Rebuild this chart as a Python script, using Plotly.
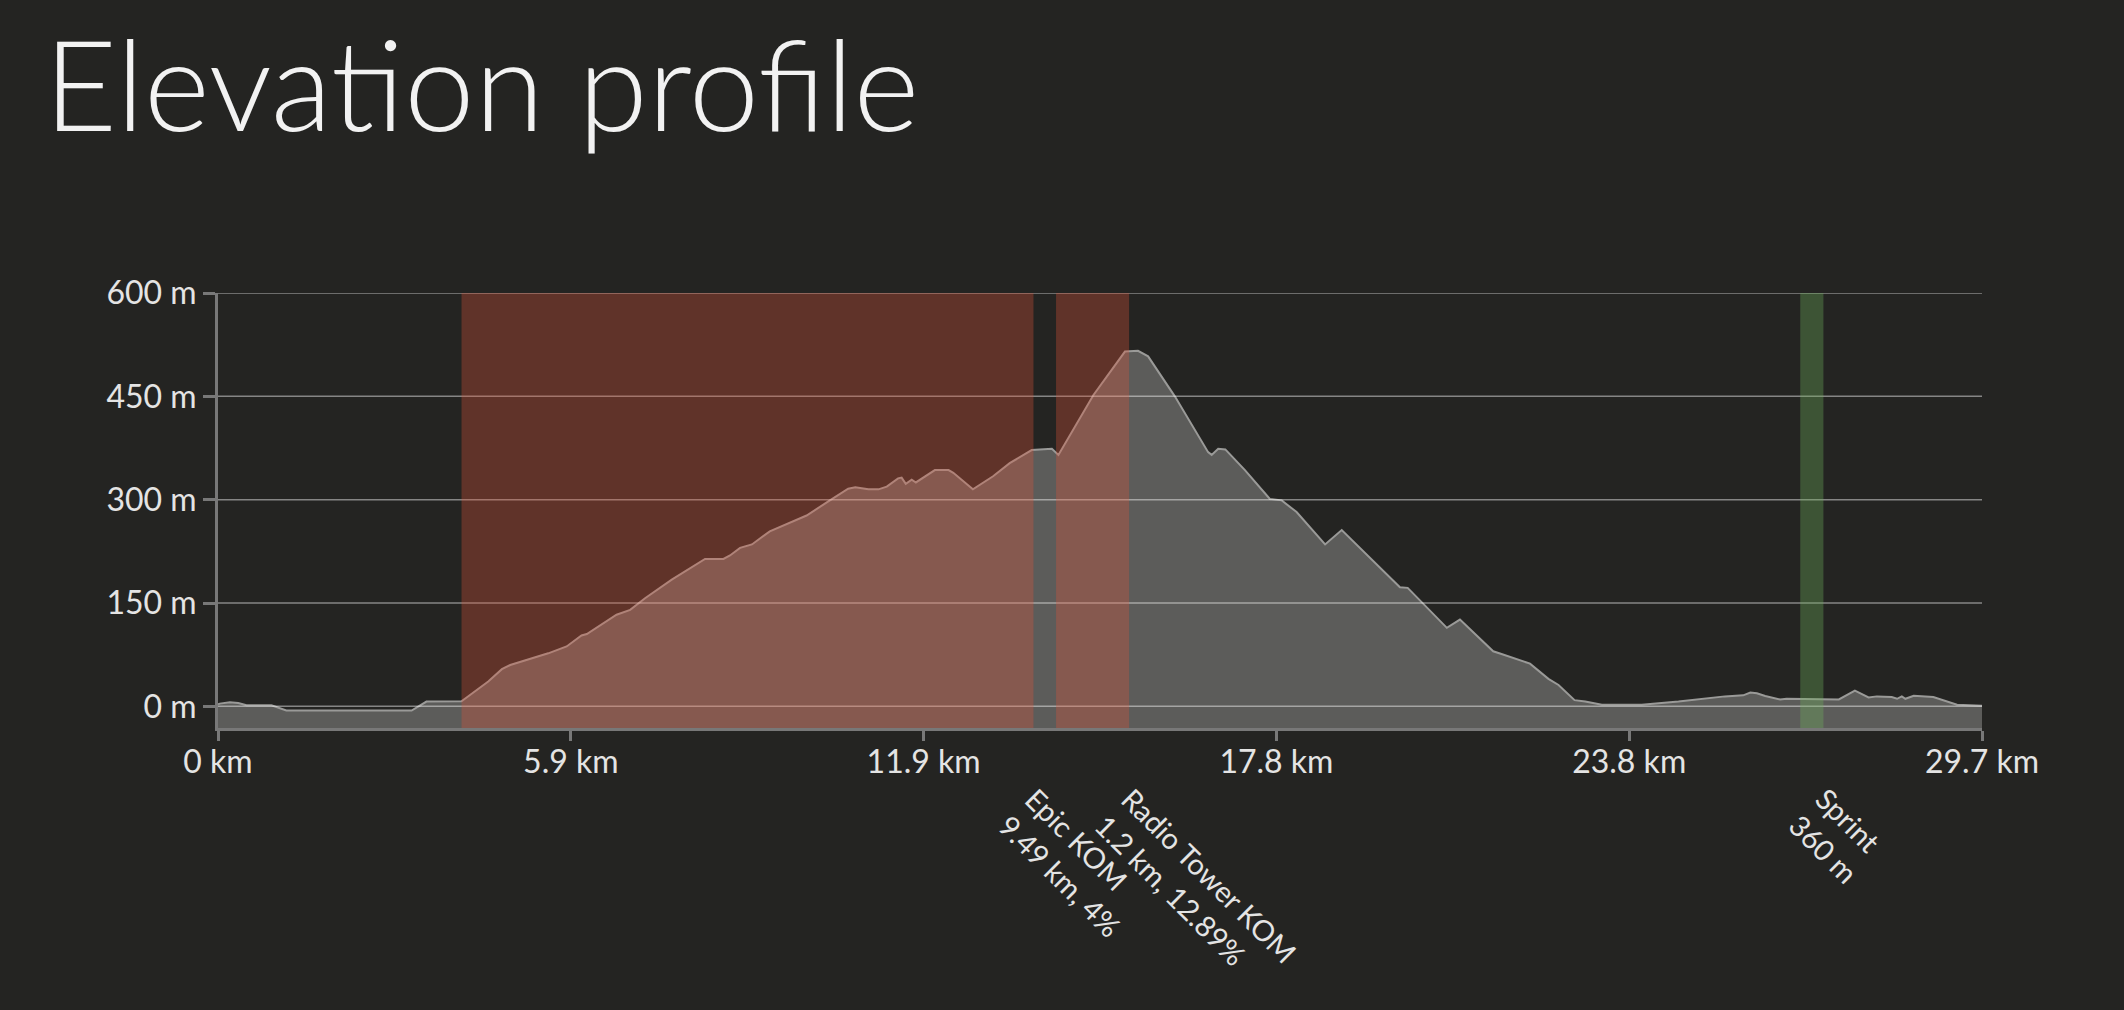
import plotly.graph_objects as go

# elevation profile (km, m)
distance_km = [
    0.00, 0.03, 0.20, 0.34, 0.48, 0.90, 1.15, 3.26, 3.51, 4.07, 4.10, 4.55, 4.78,
    4.92, 5.56, 5.87, 6.12, 6.21, 6.71, 6.94, 7.19, 7.64, 8.20, 8.51, 8.62, 8.79,
    8.99, 9.29, 9.55, 9.91, 10.25, 10.61, 10.73, 10.95, 11.12, 11.26, 11.45, 11.51,
    11.58, 11.68, 11.75, 12.07, 12.30, 12.38, 12.71, 13.05, 13.33, 13.56, 13.70,
    14.04, 14.15, 14.74, 15.27, 15.49, 15.66, 16.11, 16.67, 16.73, 16.84, 16.96,
    17.29, 17.71, 17.91, 18.16, 18.64, 18.92, 19.90, 20.03, 20.27, 20.69, 20.91,
    21.47, 21.61, 22.09, 22.40, 22.57, 22.84, 23.02, 23.30, 23.97, 24.59, 25.37,
    25.68, 25.80, 25.91, 26.05, 26.30, 26.41, 27.29, 27.56, 27.79, 27.93, 28.18,
    28.27, 28.35, 28.41, 28.55, 28.88, 29.28, 29.70,
]
elevation_m = [
    3, 4, 6, 5, 1.5, 1.5, -6, -6, 7, 7, 7.5, 36, 54,
    60, 77, 87, 103, 105, 133, 140, 157, 184, 214, 214, 219, 230,
    235, 254, 264, 277, 296, 316, 318, 315, 315, 319, 331, 332,
    323, 329, 325, 343, 343, 339, 315, 334, 353, 365, 372,
    374, 365, 452, 515, 516, 508, 450, 369, 365, 374, 373,
    343, 301, 299, 282, 235, 256, 173, 172, 151, 114, 126,
    80, 76, 62, 40, 31, 9, 7, 2.5, 2.5, 7, 14.5,
    16, 20, 19, 15, 10, 11, 10, 23, 13, 14.5, 13.5,
    11, 14.5, 11, 15.5, 13.5, 2.5, 1,
]

# climbs and sprints (start km, end km)
segment_names = ["Epic KOM<br>9.49 km, 4%", "Radio Tower KOM<br>1.2 km, 12.89%", "Sprint<br>360 m"]
segment_start = [4.10, 14.11, 26.64]
segment_end = [13.73, 15.34, 27.03]
segment_kind = ["kom", "kom", "sprint"]

x_tickvals = [0, 5.94, 11.88, 17.82, 23.76, 29.7]
x_ticktext = ["0 km", "5.9 km", "11.9 km", "17.8 km", "23.8 km", "29.7 km"]
y_tickvals = [0, 150, 300, 450, 600]
y_ticktext = ["0 m", "150 m", "300 m", "450 m", "600 m"]

Y_MIN = -31.4
Y_MAX = 600
BG = "#242422"
AXIS = "#787878"
TEXT = "#e4e4e4"
FONT = "Lato"
kind_colors = {"kom": "rgba(223, 83, 56, 0.32)", "sprint": "rgba(110, 180, 90, 0.34)"}

fig = go.Figure()

# baseline at the bottom of the plot so the area fills down to the axis
fig.add_trace(go.Scatter(x=distance_km, y=[Y_MIN] * len(distance_km), mode="lines",
                         line=dict(width=0), hoverinfo="skip", showlegend=False))
fig.add_trace(go.Scatter(x=distance_km, y=elevation_m, mode="lines", fill="tonexty",
                         fillcolor="#5c5c5a", line=dict(color="#9a9a98", width=2),
                         showlegend=False))

# grid on top of the area, then the segment bands over it
shapes = []
for v in y_tickvals:
    shapes.append(dict(type="line", xref="paper", yref="y", x0=0, x1=1, y0=v, y1=v,
                       line=dict(color="rgba(255,255,255,0.45)", width=1.5), layer="above"))
for s, e, k in zip(segment_start, segment_end, segment_kind):
    shapes.append(dict(type="rect", xref="x", yref="paper", x0=s, x1=e, y0=0, y1=1,
                       fillcolor=kind_colors[k], line=dict(width=0), layer="above"))

annotations = []
for name, e in zip(segment_names, segment_end):
    annotations.append(dict(x=e, y=0, xref="x", yref="paper", text=name, showarrow=False,
                            textangle=45, align="left", xanchor="left", yanchor="top",
                            xshift=-44, yshift=-50,
                            font=dict(family=FONT, size=29, color=TEXT)))

fig.update_layout(
    width=2124, height=1010,
    paper_bgcolor=BG, plot_bgcolor=BG,
    margin=dict(l=218, r=142, t=293, b=282),
    title=dict(text="Elevation profile", xref="container", yref="container",
               x=44 / 2124, xanchor="left", y=1 - 43 / 1010, yanchor="top",
               font=dict(family=FONT, size=126, color="#f2f2f2", weight=300)),
    shapes=shapes,
    annotations=annotations,
    xaxis=dict(range=[0, 29.7], tickvals=x_tickvals, ticktext=x_ticktext,
               showgrid=False, zeroline=False, showline=True, linecolor=AXIS, linewidth=3,
               ticks="outside", ticklen=10, tickwidth=3, tickcolor=AXIS,
               ticklabelstandoff=-6,
               tickfont=dict(family=FONT, size=32, color=TEXT)),
    yaxis=dict(range=[Y_MIN, Y_MAX], tickvals=y_tickvals, ticktext=y_ticktext,
               showgrid=False, zeroline=False, showline=True, linecolor=AXIS, linewidth=3,
               ticks="outside", ticklen=12, tickwidth=3, tickcolor=AXIS,
               ticklabelstandoff=0,
               tickfont=dict(family=FONT, size=32, color=TEXT)),
)

fig.write_html("out.html", config={"displayModeBar": False},
               post_script="document.body.style.margin='0';"
                           "document.body.style.background='#242422';")
